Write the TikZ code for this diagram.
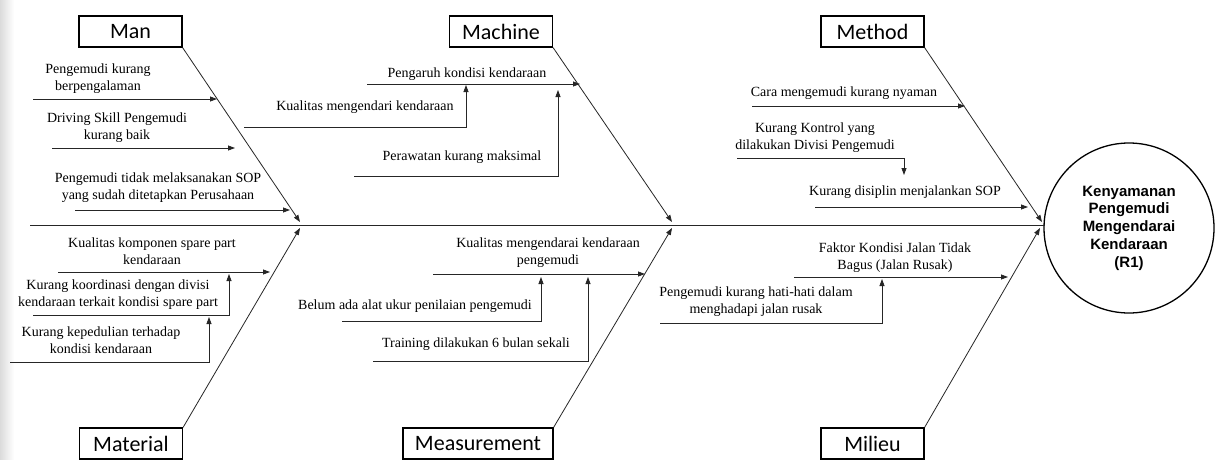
\documentclass[tikz,border=0pt]{standalone}
\usepackage{fontspec}
\setmainfont{Liberation Serif}
\newfontfamily\catfont{Carlito}
\newfontfamily\effectfont{Liberation Sans}
\usetikzlibrary{arrows.meta}
\begin{document}
\begin{tikzpicture}[x=1pt,y=-1pt,
  ln/.style={line width=0.8pt,draw=black!85},
  arr/.style={ln,-{Triangle[length=7pt,width=5pt]}},
  catbox/.style={draw=black,line width=1.2pt,minimum height=31pt,minimum width=103pt,inner sep=2pt,font=\catfont\fontsize{22}{24}\selectfont},
  cause/.style={inner sep=0pt,align=center,font=\fontsize{14}{16.8}\selectfont},
  effectnode/.style={circle,draw=black,line width=1.3pt,minimum size=170pt,align=center,font=\effectfont\bfseries\fontsize{15}{17.7}\selectfont}
]
\useasboundingbox (0,0) rectangle (1215,460);
\fill[white] (0,0) rectangle (1215,460);
\shade[left color=black!14,right color=white] (0,0) rectangle (14,460);

% effect
\node[effectnode] (effect) at (1129,228) {Kenyamanan\\Pengemudi\\Mengendarai\\Kendaraan\\(R1)};

% spine
\coordinate (spineS) at (30,225);
\coordinate (spineE) at (1045,225);
\draw[ln,line width=1pt] (spineS) -- (spineE);

% categories
\node[catbox] (man) at (130.5,31.5) {Man};
\node[catbox] (machine) at (501,31.5) {Machine};
\node[catbox] (method) at (872.5,31.5) {Method};
\node[catbox] (material) at (131,443.5) {Material};
\node[catbox,minimum width=150pt] (measure) at (478,443.5) {Measurement};
\node[catbox] (milieu) at (872.5,443.5) {Milieu};

\coordinate (manT) at (300,222);
\coordinate (macT) at (672,222);
\coordinate (metT) at (1042,222);
\coordinate (matT) at (300,228);
\coordinate (meaT) at (672,228);
\coordinate (milT) at (1040,228);
\draw[arr] (man.south east) -- (manT);
\draw[arr] (machine.south east) -- (macT);
\draw[arr] (method.south east) -- (metT);
\draw[arr] (material.north east) -- (matT);
\draw[arr] (measure.north east) -- (meaT);
\draw[arr] (milieu.north east) -- (milT);

% Man causes
\node[cause] (tman1) at (98,79) {Pengemudi kurang\\berpengalaman};
\coordinate (man1s) at (33,99); \coordinate (man1e) at (217,99);
\draw[arr] (man1s) -- (man1e);
\node[cause] (tman2) at (117,128) {Driving Skill Pengemudi\\kurang baik};
\coordinate (man2s) at (52,148); \coordinate (man2e) at (235,148);
\draw[arr] (man2s) -- (man2e);
\node[cause] (tman3) at (158,187.5) {Pengemudi tidak melaksanakan SOP\\yang sudah ditetapkan Perusahaan};
\coordinate (man3s) at (75,210); \coordinate (man3e) at (290,210);
\draw[arr] (man3s) -- (man3e);

% Machine causes
\node[cause] (tmac1) at (467,74) {Pengaruh kondisi kendaraan};
\coordinate (mac1s) at (367,84); \coordinate (mac1e) at (580,84);
\draw[arr] (mac1s) -- (mac1e);
\node[cause] (tmac2) at (365,107) {Kualitas mengendari kendaraan};
\coordinate (mac2s) at (244,127); \coordinate (mac2e) at (466,85);
\draw[arr] (mac2s) -| (mac2e);
\node[cause] (tmac3) at (462,157) {Perawatan kurang maksimal};
\coordinate (mac3s) at (354,176); \coordinate (mac3e) at (558,90);
\draw[arr] (mac3s) -| (mac3e);

% Material causes
\node[cause] (tmat1) at (152,251) {Kualitas komponen spare part\\kendaraan};
\coordinate (mat1s) at (58,272); \coordinate (mat1e) at (270,272);
\draw[arr] (mat1s) -- (mat1e);
\node[cause] (tmat2) at (118,294.5) {Kurang koordinasi dengan divisi\\kendaraan terkait kondisi spare part};
\coordinate (mat2s) at (33,315); \coordinate (mat2e) at (229,274);
\draw[arr] (mat2s) -| (mat2e);
\node[cause] (tmat3) at (101,340) {Kurang kepedulian terhadap\\kondisi kendaraan};
\coordinate (mat3s) at (10,362); \coordinate (mat3e) at (209,317);
\draw[arr] (mat3s) -| (mat3e);

% Measurement causes
\node[cause] (tmea1) at (548,252.5) {Kualitas mengendarai kendaraan\\pengemudi};
\coordinate (mea1s) at (433,274); \coordinate (mea1e) at (645,274);
\draw[arr] (mea1s) -- (mea1e);
\node[cause] (tmea2) at (415,306) {Belum ada alat ukur penilaian pengemudi};
\coordinate (mea2s) at (342,321); \coordinate (mea2e) at (541,277);
\draw[arr] (mea2s) -| (mea2e);
\node[cause] (tmea3) at (476,344) {Training dilakukan 6 bulan sekali};
\coordinate (mea3s) at (373,361); \coordinate (mea3e) at (588,277);
\draw[arr] (mea3s) -| (mea3e);

% Method causes
\node[cause] (tmet1) at (844,93) {Cara mengemudi kurang nyaman};
\coordinate (met1s) at (752,106); \coordinate (met1e) at (965,106);
\draw[arr] (met1s) -- (met1e);
\node[cause] (tmet2) at (815,137.5) {Kurang Kontrol yang\\dilakukan Divisi Pengemudi};
\coordinate (met2s) at (737,158); \coordinate (met2e) at (904,175);
\draw[arr] (met2s) -| (met2e);
\node[cause] (tmet3) at (905,192) {Kurang disiplin menjalankan SOP};
\coordinate (met3s) at (815,207); \coordinate (met3e) at (1028,207);
\draw[arr] (met3s) -- (met3e);

% Milieu causes
\node[cause] (tmil1) at (895,258) {Faktor Kondisi Jalan Tidak\\Bagus (Jalan Rusak)};
\coordinate (mil1s) at (794,277); \coordinate (mil1e) at (1008,277);
\draw[arr] (mil1s) -- (mil1e);
\node[cause] (tmil2) at (756,302) {Pengemudi kurang hati-hati dalam\\menghadapi jalan rusak};
\coordinate (mil2s) at (660,323); \coordinate (mil2e) at (882,279);
\draw[arr] (mil2s) -| (mil2e);
\end{tikzpicture}
\end{document}
